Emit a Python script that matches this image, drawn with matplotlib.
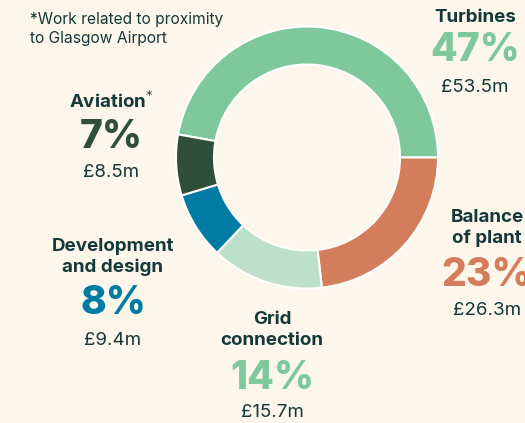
import matplotlib
matplotlib.use('Agg')
import matplotlib.pyplot as plt

# spend by category, £m (clockwise from the top-left)
categories = ['Turbines', 'Balance\nof plant', 'Grid\nconnection', 'Development\nand design', 'Aviation']
values = [53.5, 26.3, 15.7, 9.4, 8.5]
percent_labels = ['47%', '23%', '14%', '8%', '7%']
money_labels = ['£53.5m', '£26.3m', '£15.7m', '£9.4m', '£8.5m']
footnote = '*Work related to proximity\nto Glasgow Airport'

ring_colors = ['#7ec89c', '#d47d5c', '#bde0cc', '#007ca4', '#2f4f3a']
pct_colors = ['#7ec89c', '#d47d5c', '#7ec89c', '#007ca4', '#2f4f3a']
BG = '#fdf6ea'
DARK = '#15383a'

W, H = 525, 423
plt.rcParams['font.family'] = ['Inter', 'DejaVu Sans']

fig = plt.figure(figsize=(W / 100, H / 100), dpi=100)
fig.patch.set_facecolor(BG)
ax = fig.add_axes([0, 0, 1, 1])
ax.set_facecolor(BG)

start = 360 * values[0] / sum(values)
ax.pie(values, colors=ring_colors, startangle=start, counterclock=False,
       center=(307, H - 157.5), radius=131,
       wedgeprops=dict(width=38, edgecolor='white', linewidth=1.5))
ax.set_xlim(0, W)
ax.set_ylim(0, H)
ax.set_aspect('auto')
ax.axis('off')

# label layout in pixels from top-left: x centre, title y, percent y, money y
layout = [(475, 17, 50, 87), (487, 228, 275, 310), (272, 330, 378, 412),
          (113, 257, 303, 340), (111, 101, 137, 172)]

for i, (x, yt, yp, ym) in enumerate(layout):
    title = categories[i]
    if i == 4:
        title = 'Aviation$^{*}$'
    ax.text(x, H - yt, title, ha='center', va='center', fontsize=13.5,
            fontweight='bold', color=DARK, linespacing=1.3)
    ax.text(x, H - yp, percent_labels[i], ha='center', va='center',
            fontsize=28, fontweight='heavy', color=pct_colors[i])
    ax.text(x, H - ym, money_labels[i], ha='center', va='center',
            fontsize=13.5, color=DARK)

ax.text(30, H - 29, footnote, ha='left', va='center', fontsize=11.2,
        color=DARK, linespacing=1.35)

fig.savefig('out.png', dpi=100, facecolor=BG)
